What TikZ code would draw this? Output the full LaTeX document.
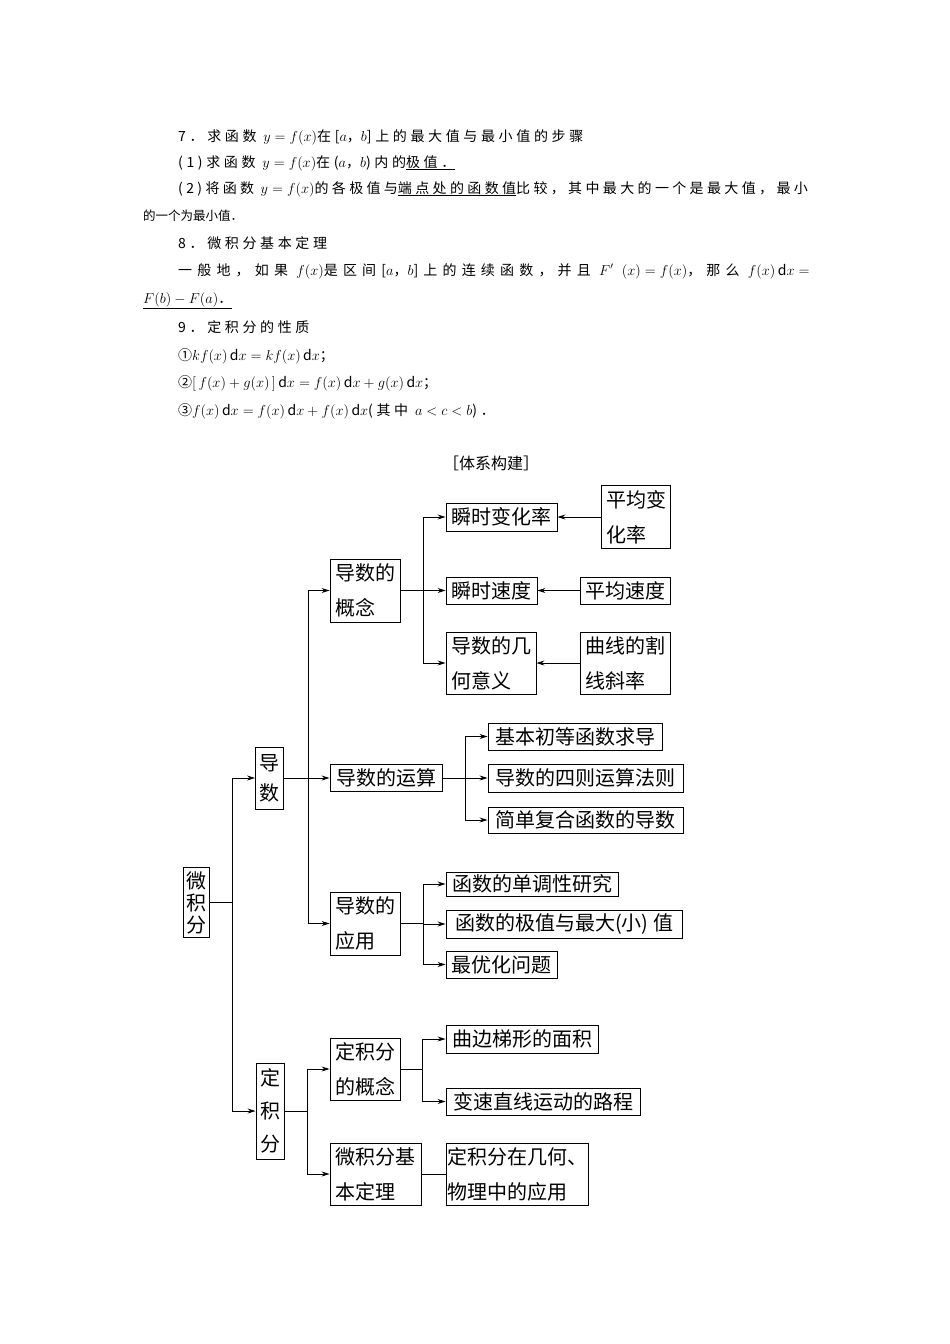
\documentclass[tikz,border=0pt]{standalone}
\usepackage{fontspec}
\setmainfont{Noto Sans CJK SC}
\usepackage{tikz}
\usetikzlibrary{positioning, arrows.meta}

\begin{document}
\begin{tikzpicture}[
        x=1pt, y=-1pt,
        box_node/.style={draw, line width=0.9pt, inner sep=0pt, align=left, font=\fontsize{20}{#1}\selectfont},
        box_node/.default=35,
        branch_arrow/.style={-{Stealth[length=8pt, width=5pt]}, line width=0.9pt},
        branch_line/.style={line width=0.9pt},
        text_line/.style={anchor=base west, inner sep=0pt, font=\fontsize{14}{27}\selectfont\addfontfeatures{LetterSpace=#1}},
        text_line/.default=26
    ]
    \path[fill=white, use as bounding box] (0,0) rectangle (950,1344);

    % Text above the diagram
    \node[text_line] (t1) at (178,141) {7．求函数 $y=f(x)$在[$a$，$b$]上的最大值与最小值的步骤};
    \node[text_line] (t2) at (178,167) {(1)求函数 $y=f(x)$在($a$，$b$)内的\underline{极值．}};
    \node[text_line=24] (t3) at (178,193) {(2)将函数 $y=f(x)$的各极值与\underline{端点处的函数值}比较，其中最大的一个是最大值，最小};
    \node[text_line, font=\fontsize{12.5}{27}\selectfont] (t4) at (143,220) {的一个为最小值．};
    \node[text_line] (t5) at (178,248) {8．微积分基本定理};
    \node[text_line=37] (t6) at (178,275) {一般地，如果 $f(x)$是区间[$a$，$b$]上的连续函数，并且 $F'$\ $(x)=f(x)$，那么 $f(x)\,\mathrm{d}x=$};
    \node[text_line] (t7) at (143,303) {\underline{$F(b)-F(a)$．}};
    \node[text_line] (t8) at (178,332) {9．定积分的性质};
    \node[text_line] (t9) at (178,360) {①$kf(x)\,\mathrm{d}x=kf(x)\,\mathrm{d}x$；};
    \node[text_line] (t10) at (178,387) {②$[\,f(x)+g(x)\,]\,\mathrm{d}x=f(x)\,\mathrm{d}x+g(x)\,\mathrm{d}x$；};
    \node[text_line] (t11) at (178,415) {③$f(x)\,\mathrm{d}x=f(x)\,\mathrm{d}x+f(x)\,\mathrm{d}x$(其中 $a<c<b$)．};
    \node[inner sep=0pt, font=\fontsize{16}{16}\selectfont] (title) at (491,463) {［体系构建］};

    % Root and first level
    \node[box_node=22, minimum width=26, minimum height=70] (wjf) at (196,902.5) {微\\积\\分};
    \node[box_node=30, minimum width=28, minimum height=62] (ds) at (269.5,778) {导\\数};
    \node[box_node=33, minimum width=28, minimum height=96] (djf) at (270,1111) {定\\积\\分};

    % Second level
    \node[box_node, minimum width=70, minimum height=63] (gn) at (365,590.5) {导数的\\概念};
    \node[box_node, minimum width=112, minimum height=27] (ys) at (386,778) {导数的运算};
    \node[box_node, minimum width=70, minimum height=63] (yy) at (365,923.5) {导数的\\应用};
    \node[box_node, minimum width=70, minimum height=62] (jgn) at (365,1069) {定积分\\的概念};
    \node[box_node, minimum width=91, minimum height=62] (jbd) at (375.5,1174) {微积分基\\本定理};

    % Third level: concept of derivative
    \node[box_node, minimum width=111, minimum height=28] (sb) at (501.5,517) {瞬时变化率};
    \node[box_node, minimum width=69, minimum height=63, right=44 of sb] (pb) {平均变\\化率};
    \node[box_node, minimum width=91, minimum height=27] (ss) at (491.5,590.5) {瞬时速度};
    \node[box_node, minimum width=90, minimum height=27, right=43 of ss] (ps) {平均速度};
    \node[box_node, minimum width=90, minimum height=62] (jh) at (491,663) {导数的几\\何意义};
    \node[box_node, minimum width=90, minimum height=62, right=44 of jh] (gx) {曲线的割\\线斜率};

    % Third level: operations and applications
    \node[box_node, minimum width=174, minimum height=27] (jb) at (575,736.5) {基本初等函数求导};
    \node[box_node, minimum width=195, minimum height=28] (sz) at (585.5,778) {导数的四则运算法则};
    \node[box_node, minimum width=195, minimum height=26] (fh) at (585.5,820) {简单复合函数的导数};
    \node[box_node, minimum width=172, minimum height=24] (dd) at (532,884) {函数的单调性研究};
    \node[box_node, minimum width=236, minimum height=28] (jz) at (564,924) {函数的极值与最大(小)\ 值};
    \node[box_node, minimum width=111, minimum height=27] (zy) at (501.5,964.5) {最优化问题};

    % Third level: definite integral
    \node[box_node, minimum width=152, minimum height=28] (qb) at (522,1039) {曲边梯形的面积};
    \node[box_node, minimum width=194, minimum height=27] (bs) at (543,1101.5) {变速直线运动的路程};
    \node[box_node, minimum width=142, minimum height=62] (jyy) at (517,1174) {定积分在几何、\\物理中的应用};

    % Junctions
    \coordinate (j0) at ([xshift=23pt]wjf.east);
    \coordinate (j1) at ([xshift=24pt]ds.east);
    \coordinate (j2) at ([xshift=23pt]gn.east);
    \coordinate (j3) at ([xshift=23pt]ys.east);
    \coordinate (j4) at ([xshift=23pt]yy.east);
    \coordinate (j5) at ([xshift=23pt]djf.east);
    \coordinate (j6) at ([xshift=22pt]jgn.east);

    % Connectors
    \draw[branch_line] (wjf.east) -- (j0);
    \draw[branch_arrow] (j0) |- (ds.west);
    \draw[branch_arrow] (j0) |- (djf.west);

    \draw[branch_arrow] (ds.east) -- (ys.west);
    \draw[branch_arrow] (j1) |- (gn.west);
    \draw[branch_arrow] (j1) |- (yy.west);

    \draw[branch_line] (gn.east) -- (j2);
    \draw[branch_arrow] (j2) |- (sb.west);
    \draw[branch_arrow] (j2) |- (ss.west);
    \draw[branch_arrow] (j2) |- (jh.west);
    \draw[branch_arrow] (pb.west) -- (sb.east);
    \draw[branch_arrow] (ps.west) -- (ss.east);
    \draw[branch_arrow] (gx.west) -- (jh.east);

    \draw[branch_line] (ys.east) -- (j3);
    \draw[branch_arrow] (j3) |- (jb.west);
    \draw[branch_arrow] (j3) |- (sz.west);
    \draw[branch_arrow] (j3) |- (fh.west);

    \draw[branch_line] (yy.east) -- (j4);
    \draw[branch_arrow] (j4) |- (dd.west);
    \draw[branch_arrow] (j4) |- (jz.west);
    \draw[branch_arrow] (j4) |- (zy.west);

    \draw[branch_line] (djf.east) -- (j5);
    \draw[branch_arrow] (j5) |- (jgn.west);
    \draw[branch_arrow] (j5) |- (jbd.west);

    \draw[branch_line] (jgn.east) -- (j6);
    \draw[branch_arrow] (j6) |- (qb.west);
    \draw[branch_arrow] (j6) |- (bs.west);
    \draw[branch_line] (jbd.east) -- (jyy.west);

\end{tikzpicture}
\end{document}
